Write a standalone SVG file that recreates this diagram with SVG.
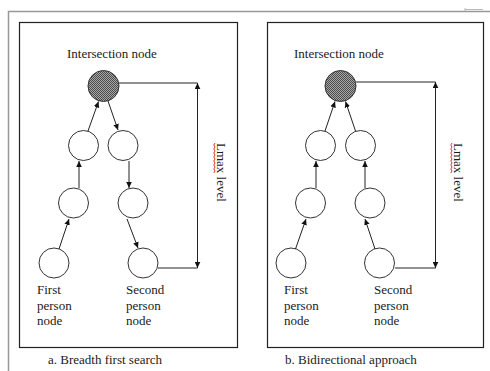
<svg xmlns="http://www.w3.org/2000/svg" width="490" height="371" viewBox="0 0 490 371">
<defs>
<pattern id="chk" width="2" height="2" patternUnits="userSpaceOnUse">
<rect width="2" height="2" fill="#a8a8a8"/>
<rect width="1" height="1" fill="#4a4a4a"/>
<rect x="1" y="1" width="1" height="1" fill="#4a4a4a"/>
</pattern>
<marker id="ah" markerUnits="userSpaceOnUse" markerWidth="6" markerHeight="6" refX="6" refY="3" orient="auto-start-reverse">
<path d="M0,0.2 L6,3 L0,5.8 z" fill="#111"/>
</marker>
</defs>
<style>
.t{font-family:"Liberation Serif","DejaVu Serif",serif;font-size:13px;fill:#1a1a1a}
.n{fill:#fff;stroke:#333;stroke-width:1}
.s{fill:url(#chk);stroke:#333;stroke-width:1}
.box{fill:none;stroke:#222;stroke-width:1.2}
.frame{fill:none;stroke:#999;stroke-width:1.5}
.c{fill:none;stroke:#222;stroke-width:1}
.a{marker-end:url(#ah)}
.sq{fill:none;stroke:#e0302a;stroke-width:1}
</style>
<rect width="490" height="371" fill="#fff"/>
<g id="frame">
<path class="frame" d="M8.5,371 V11.5 H490"/>
<path d="M465,9.5 H483 M465,8 V11" stroke="#bbb" stroke-width="1" fill="none"/>
</g>
<g id="panel-a">
<rect class="box" x="19.5" y="22.5" width="218" height="325"/>
<text class="t" x="67" y="58" font-family="Liberation Serif, serif">Intersection node</text>
<text class="t" x="48" y="364" font-family="Liberation Serif, serif">a. Breadth first search</text>
<g transform="translate(216.5,143) rotate(90)">
<text class="t" x="0" y="0" font-family="Liberation Serif, serif">Lmax level</text>
</g>
<path class="sq" d="M215,143 l-1.2,2 1.2,2 -1.2,2 1.2,2 -1.2,2 1.2,2 -1.2,2 1.2,2 -1.2,2 1.2,2 -1.2,2 1.2,2 -1.2,2 1.2,2 -1.2,2"/>
</g>
<g id="panel-b">
<rect class="box" x="267.5" y="22.5" width="216" height="325"/>
<text class="t" x="294" y="58" font-family="Liberation Serif, serif">Intersection node</text>
<text class="t" x="285" y="364" font-family="Liberation Serif, serif">b. Bidirectional approach</text>
<g transform="translate(453.5,143) rotate(90)">
<text class="t" x="0" y="0" font-family="Liberation Serif, serif">Lmax level</text>
</g>
<path class="sq" d="M452,143 l-1.2,2 1.2,2 -1.2,2 1.2,2 -1.2,2 1.2,2 -1.2,2 1.2,2 -1.2,2 1.2,2 -1.2,2 1.2,2 -1.2,2 1.2,2 -1.2,2"/>
</g>
<g id="a-intersection"><circle class="s" cx="103.5" cy="86" r="15.5"/></g>
<g id="a-l2-left"><circle class="n" cx="83.5" cy="145.5" r="15"/></g>
<g id="a-l2-right"><circle class="n" cx="123" cy="145.5" r="15"/></g>
<g id="a-l3-left"><circle class="n" cx="73.5" cy="203" r="15"/></g>
<g id="a-l3-right"><circle class="n" cx="133" cy="203" r="15"/></g>
<g id="a-first"><circle class="n" cx="54" cy="263" r="15"/>
<text class="t" x="37" y="294">First</text><text class="t" x="37" y="309.5">person</text><text class="t" x="37" y="325">node</text></g>
<g id="a-second"><circle class="n" cx="143" cy="263" r="15"/>
<text class="t" x="126" y="294">Second</text><text class="t" x="126" y="309.5">person</text><text class="t" x="126" y="325">node</text></g>
<g id="b-intersection"><circle class="s" cx="340.5" cy="86" r="15.5"/></g>
<g id="b-l2-left"><circle class="n" cx="320.5" cy="145.5" r="15"/></g>
<g id="b-l2-right"><circle class="n" cx="360.5" cy="145.5" r="15"/></g>
<g id="b-l3-left"><circle class="n" cx="310.5" cy="203" r="15"/></g>
<g id="b-l3-right"><circle class="n" cx="370" cy="203" r="15"/></g>
<g id="b-first"><circle class="n" cx="291" cy="263" r="15"/>
<text class="t" x="284" y="294">First</text><text class="t" x="284" y="309.5">person</text><text class="t" x="284" y="325">node</text></g>
<g id="b-second"><circle class="n" cx="379.5" cy="263" r="15"/>
<text class="t" x="374" y="294">Second</text><text class="t" x="374" y="309.5">person</text><text class="t" x="374" y="325">node</text></g>
<g id="connectors">
<line class="c a" x1="59" y1="249" x2="69" y2="219"/>
<line class="c a" x1="79" y1="188" x2="79" y2="161"/>
<line class="c a" x1="88" y1="131" x2="98.5" y2="101.5"/>
<line class="c a" x1="108" y1="101" x2="118" y2="130"/>
<line class="c a" x1="129" y1="161" x2="129" y2="188"/>
<line class="c a" x1="127" y1="219" x2="138" y2="248"/>
<path class="c" d="M119,83 H197.5 M158,268 H197.5"/>
<line class="c" x1="197.5" y1="83" x2="197.5" y2="268" marker-start="url(#ah)" marker-end="url(#ah)"/>
<line class="c a" x1="295.5" y1="249" x2="306" y2="219"/>
<line class="c a" x1="316" y1="188" x2="316" y2="161"/>
<line class="c a" x1="325" y1="131" x2="335" y2="101.5"/>
<line class="c a" x1="355.5" y1="131" x2="345.5" y2="101.5"/>
<line class="c a" x1="365" y1="188" x2="365" y2="161"/>
<line class="c a" x1="375" y1="249" x2="365" y2="219"/>
<path class="c" d="M356,82 H435.5 M395,268 H435.5"/>
<line class="c" x1="435.5" y1="82" x2="435.5" y2="268" marker-start="url(#ah)" marker-end="url(#ah)"/>
</g>
</svg>
